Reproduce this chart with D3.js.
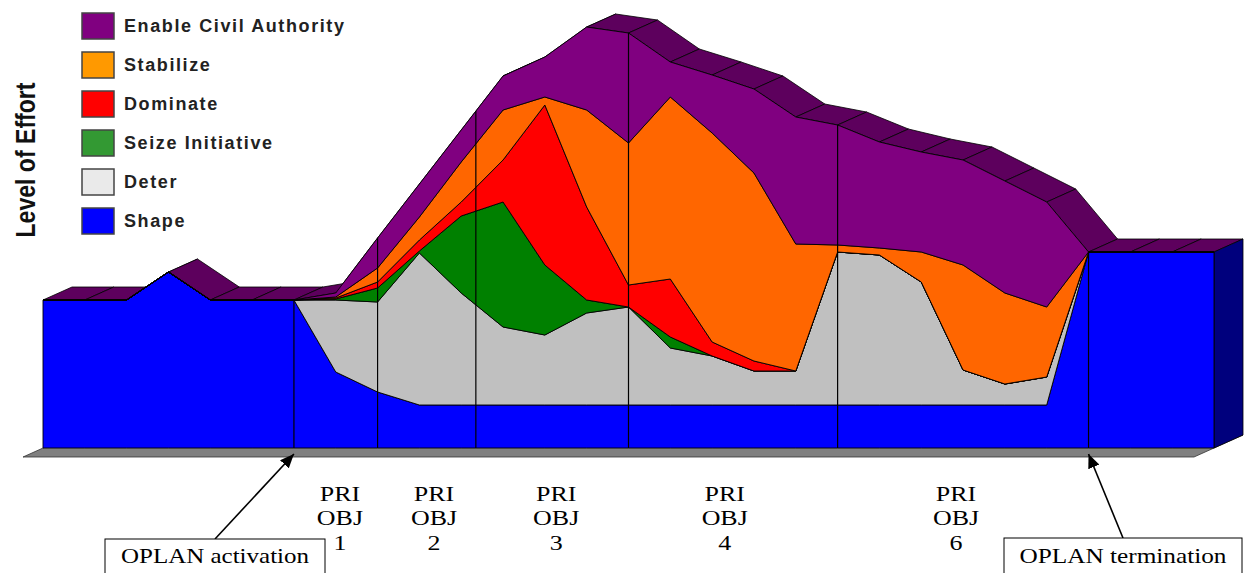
<!DOCTYPE html>
<html lang="en">
<head>
  <meta charset="UTF-8">
  <title>Level of Effort by Phase</title>
  <script src="https://d3js.org/d3.v7.min.js"></script>
  <style>
    body { margin: 0; background: #ffffff; }
    .legend text {
      font-family: "Liberation Sans", Arial, sans-serif;
      font-weight: bold;
      font-size: 18px;
      letter-spacing: 1.6px;
      fill: #222;
    }
    .obj text, .note text {
      font-family: "Liberation Serif", "Times New Roman", serif;
      font-size: 22px;
      fill: #000;
    }
  </style>
</head>
<body>
  <script>
    // series, bottom of the stack first
    const series = ["Shape", "Deter", "Seize Initiative", "Dominate", "Stabilize", "Enable Civil Authority"];
    const periods = d3.range(29);

    const shape     = [37, 37, 37, 44, 37, 37, 37, 19, 14, 10.75, 10.75, 10.75, 10.75, 10.75, 10.75, 10.75, 10.75, 10.75, 10.75, 10.75, 10.75, 10.75, 10.75, 10.75, 10.75, 49, 49, 49, 49];
    const deter     = [0, 0, 0, 0, 0, 0, 0, 18, 22.5, 38, 28, 19.5, 17.5, 23, 24.5, 14.25, 12.25, 8.5, 8.5, 38.25, 37.5, 30.75, 8.75, 5.25, 7, 0, 0, 0, 0];
    const seize     = [0, 0, 0, 0, 0, 0, 0, 0.25, 3.5, 0.5, 19.25, 31.25, 17.5, 3.25, 0, 2.75, 0, 0, 0, 0, 0, 0, 0, 0, 0, 0, 0, 0, 0];
    const dominate  = [0, 0, 0, 0, 0, 0, 0, 0.25, 1.5, 2.75, 3.5, 10.5, 40, 23.25, 5.5, 14.5, 3.5, 2.5, 0, 0, 0, 0, 0, 0, 0, 0, 0, 0, 0];
    const stabilize = [0, 0, 0, 0, 0, 0, 0, 0.25, 3.5, 5.75, 10, 12.5, 2, 24.25, 35.5, 45.5, 52.25, 47, 31.75, 1.75, 1.75, 7.5, 26.25, 22.75, 17.5, 0, 0, 0, 0];
    const civil     = [0, 0, 0, 0, 0, 0, 0, 1, 7.5, 8.25, 8, 8.5, 10, 20.75, 27.5, 8.75, 14.5, 21, 31.75, 30, 26.5, 25, 26.25, 28, 26.25, 0, 0, 0, 0];

    // phase boundaries and objective labels, in period units
    const phaseLines = [6, 8, 10.35, 14, 19, 25];
    const objNames = ["1", "2", "3", "4", "6"];
    const objAt = [7.1, 9.35, 12.27, 16.3, 21.83];

    const chartColors  = ["#0000ff", "#c0c0c0", "#008000", "#ff0000", "#ff6600", "#800080"];
    const legendColors = ["#0000ff", "#eaeaea", "#339933", "#ff0000", "#ff9900", "#800080"];

    const width = 1245, height = 573;
    const depth = [29, -13];      // offset of the back plane
    const floorFront = [-20, 9];  // floor sticks out in front of the series

    const svg = d3.select("body").append("svg")
      .attr("width", width)
      .attr("height", height)
      .style("display", "block");

    const x = d3.scaleLinear().domain([0, 28]).range([43, 1214]);
    const y = d3.scaleLinear().domain([0, 110]).range([448, 8]);

    const values = [shape, deter, seize, dominate, stabilize, civil];
    const rows = periods.map(i => {
      const r = { period: i };
      series.forEach((s, k) => r[s] = values[k][i]);
      return r;
    });
    const layers = d3.stack().keys(series)(rows);
    const stackTop = layers[layers.length - 1].map(d => d[1]);

    const pts = arr => arr.map(p => p.join(",")).join(" ");
    const shift = p => [p[0] + depth[0], p[1] + depth[1]];

    // floor
    const x0 = x(0), xN = x(28), yb = y(0);
    svg.append("polygon")
      .attr("points", pts([
        [x0 + floorFront[0], yb + floorFront[1]],
        [xN + floorFront[0], yb + floorFront[1]],
        [xN + depth[0], yb + depth[1]],
        [x0 + depth[0], yb + depth[1]]
      ]))
      .attr("fill", "#808080")
      .attr("stroke", "#333")
      .attr("stroke-width", 0.8);

    // top faces of the stack; hidden ones first so the visible ones cover them
    const faces = d3.range(28).map(i => {
      const a = [x(i), y(stackTop[i])], b = [x(i + 1), y(stackTop[i + 1])];
      const cross = (b[0] - a[0]) * depth[1] - (b[1] - a[1]) * depth[0];
      return { poly: [a, b, shift(b), shift(a)], visible: cross < 0 };
    });
    const topColor = d3.color(chartColors[5]).darker(0.9).formatHex();
    svg.append("g")
      .selectAll("polygon")
      .data(faces.filter(f => !f.visible).concat(faces.filter(f => f.visible)))
      .join("polygon")
      .attr("points", d => pts(d.poly))
      .attr("fill", topColor)
      .attr("stroke", "#000")
      .attr("stroke-width", 0.8)
      .attr("stroke-linejoin", "round");

    // right end faces
    svg.append("g")
      .selectAll("polygon")
      .data(layers.filter(l => l[28][1] > l[28][0]))
      .join("polygon")
      .attr("points", l => {
        const lo = [x(28), y(l[28][0])], hi = [x(28), y(l[28][1])];
        return pts([lo, hi, shift(hi), shift(lo)]);
      })
      .attr("fill", l => d3.color(chartColors[l.index]).darker(2).formatHex())
      .attr("stroke", "#000")
      .attr("stroke-width", 0.8);

    // front faces
    const area = d3.area()
      .x((d, i) => x(i))
      .y0(d => y(d[0]))
      .y1(d => y(d[1]));
    svg.append("g")
      .selectAll("path")
      .data(layers)
      .join("path")
      .attr("d", area)
      .attr("fill", l => chartColors[l.index])
      .attr("stroke", "#000")
      .attr("stroke-width", 0.9)
      .attr("stroke-linejoin", "round");

    // phase boundaries
    const topAt = p => {
      const i = Math.min(27, Math.floor(p)), t = p - i;
      return stackTop[i] + (stackTop[i + 1] - stackTop[i]) * t;
    };
    svg.append("g")
      .selectAll("line")
      .data(phaseLines)
      .join("line")
      .attr("x1", d => x(d)).attr("x2", d => x(d))
      .attr("y1", d => y(topAt(d))).attr("y2", yb)
      .attr("stroke", "#000")
      .attr("stroke-width", 1.2);

    // legend
    const legendOrder = series.map((s, k) => k).reverse();
    const legend = svg.append("g").attr("class", "legend")
      .selectAll("g")
      .data(legendOrder)
      .join("g")
      .attr("transform", (k, j) => `translate(82, ${13 + j * 39})`);
    legend.append("rect")
      .attr("width", 32).attr("height", 26)
      .attr("fill", k => legendColors[k])
      .attr("stroke", "#444")
      .attr("stroke-width", 1.5);
    legend.append("text")
      .attr("x", 42).attr("y", 19)
      .text(k => series[k]);

    // axis title
    svg.append("text")
      .attr("transform", "translate(35, 160) rotate(-90)")
      .attr("text-anchor", "middle")
      .attr("textLength", 155)
      .attr("lengthAdjust", "spacingAndGlyphs")
      .style("font-family", "'Liberation Sans', Arial, sans-serif")
      .style("font-weight", "bold")
      .style("font-size", "27px")
      .attr("fill", "#111")
      .text("Level of Effort");

    // objective labels under the chart (glyphs drawn a little wide, as in the original)
    const obj = svg.append("g").attr("class", "obj")
      .selectAll("text")
      .data(objNames)
      .join("text")
      .attr("text-anchor", "middle")
      .attr("transform", (d, i) => `translate(${x(objAt[i])}, 0) scale(1.18, 1)`);
    ["PRI", "OBJ", null].forEach((w, j) => {
      obj.append("tspan")
        .attr("x", 0)
        .attr("y", 501 + j * 24.5)
        .text(d => w || d);
    });

    // activation / termination notes
    svg.append("defs").append("marker")
      .attr("id", "tip")
      .attr("viewBox", "0 0 14 12")
      .attr("refX", 14).attr("refY", 6)
      .attr("markerWidth", 14).attr("markerHeight", 12)
      .attr("markerUnits", "userSpaceOnUse")
      .attr("orient", "auto")
      .append("path")
      .attr("d", "M0,0L14,6L0,12Z")
      .attr("fill", "#000");

    const notes = [
      { label: "OPLAN activation", at: 6, box: [105, 539, 220], len: 188 },
      { label: "OPLAN termination", at: 25, box: [1004, 538, 238], len: 207 }
    ];
    const note = svg.append("g").attr("class", "note")
      .selectAll("g")
      .data(notes)
      .join("g");
    note.append("line")
      .attr("x1", d => d.box[0] + d.box[2] / 2)
      .attr("y1", d => d.box[1])
      .attr("x2", d => x(d.at))
      .attr("y2", yb + 6)
      .attr("stroke", "#000")
      .attr("stroke-width", 1.6)
      .attr("marker-end", "url(#tip)");
    note.append("rect")
      .attr("x", d => d.box[0]).attr("y", d => d.box[1])
      .attr("width", d => d.box[2]).attr("height", 45)
      .attr("fill", "#fff")
      .attr("stroke", "#000")
      .attr("stroke-width", 1);
    note.append("text")
      .attr("x", d => d.box[0] + d.box[2] / 2)
      .attr("y", 563)
      .attr("text-anchor", "middle")
      .attr("textLength", d => d.len)
      .attr("lengthAdjust", "spacingAndGlyphs")
      .text(d => d.label);
  </script>
</body>
</html>
